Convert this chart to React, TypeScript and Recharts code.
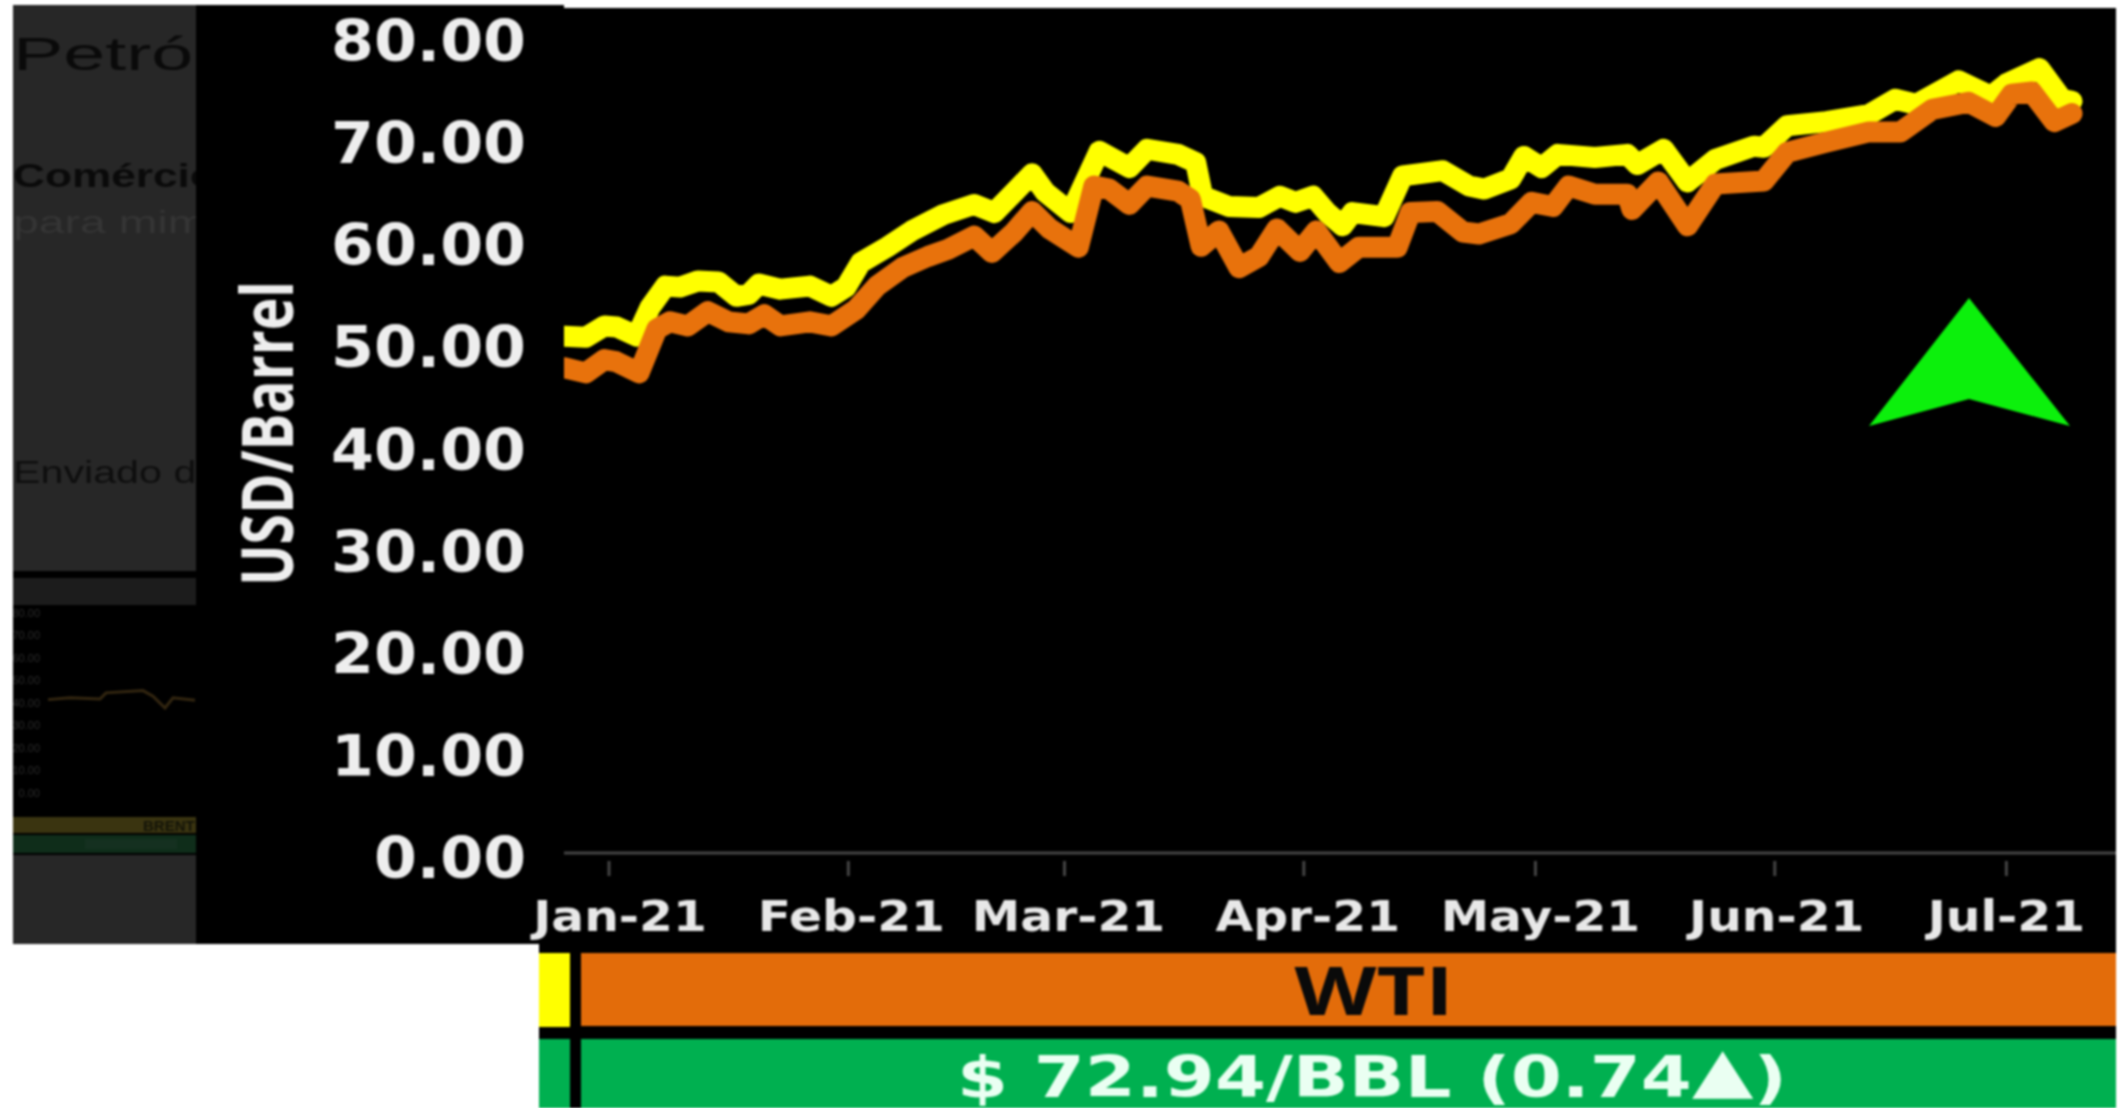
import React from 'react';
import { LineChart, Line, XAxis, YAxis, ReferenceLine } from 'recharts';

// days counted from 1 Jan 2021, prices
const brentDays = [-5.8, -3, -0.6, 1, 3.6, 5.3, 7.3, 9.2, 11.5, 14.2, 16.5, 18.1, 19.4, 22.2, 26, 28.8, 30.7, 32.6, 36, 39.2, 43.3, 47.3, 49.9, 52.5, 54.8, 56.5, 59.8, 63.5, 67.4, 69.7, 73.7, 76, 76.9, 80.3, 84.2, 86.9, 88.9, 91.2, 93, 95, 96.3, 100.4, 102.8, 108, 111.4, 113.4, 116.8, 118.5, 120.8, 122.9, 127.7, 131.9, 133.2, 136.6, 139.7, 143.3, 148.3, 149.6, 152.6, 157.7, 163.2, 166.6, 169.3, 174.8, 179, 181, 185.3, 188.2, 189.5];
const brentPrices = [51.1, 51, 52.1, 52, 51.1, 53.9, 56, 55.9, 56.5, 56.4, 55, 55.2, 56.2, 55.7, 56, 55, 55.9, 58.3, 59.8, 61.4, 63, 64, 63.2, 65.2, 67, 65.2, 63.2, 69.2, 67.6, 69.4, 68.9, 68.1, 64.8, 63.8, 63.7, 64.8, 64.2, 64.8, 63.2, 61.9, 63.2, 62.8, 66.8, 67.3, 65.8, 65.5, 66.5, 68.7, 67.6, 68.9, 68.6, 68.9, 67.9, 69.4, 66.2, 68.4, 69.7, 69.6, 71.7, 72.1, 72.8, 74.3, 73.8, 76.1, 74.6, 75.8, 77.3, 74.3, 74.1];
const wtiDays = [-5.8, -3, -0.6, 0.9, 3.9, 6.2, 7.9, 10.2, 12.8, 15.5, 18.1, 20.1, 22.2, 26, 28.8, 32, 34.7, 38, 41.3, 43.9, 47.3, 49.6, 52.5, 54.8, 57.1, 60.8, 62.8, 64.8, 67.4, 69.7, 73.7, 75.3, 76.7, 79, 81.6, 84.2, 86.5, 89.5, 91.6, 94.6, 97.1, 102.1, 103.8, 107.3, 110.6, 112.7, 116.8, 119.5, 122.3, 124.3, 127.7, 131.9, 132.5, 135.9, 139.7, 143.3, 149.6, 152.6, 157.7, 163.2, 167.3, 171.4, 176.1, 179.6, 181.7, 184.3, 187.2, 189.5];
const wtiPrices = [48, 47.5, 48.8, 48.6, 47.5, 51.8, 52.5, 52.1, 53.5, 52.5, 52.3, 53.2, 52.1, 52.5, 52.1, 53.7, 56, 57.8, 58.9, 59.6, 60.9, 59.3, 61.3, 63.3, 61.6, 59.8, 65.8, 65.5, 64, 65.8, 65.3, 64.5, 59.9, 61.4, 57.8, 58.9, 61.6, 59.4, 61.4, 58.3, 59.8, 59.8, 63.2, 63.3, 61.3, 61.1, 62.1, 64.2, 63.8, 65.8, 65, 65, 63.5, 66.2, 61.9, 66, 66.3, 69.1, 70.1, 71.1, 71.1, 73.3, 74, 72.6, 74.8, 75, 72.1, 72.9];

const monthTicks = [0, 31, 59, 90, 120, 151, 181];
const monthLabels = ['Jan-21', 'Feb-21', 'Mar-21', 'Apr-21', 'May-21', 'Jun-21', 'Jul-21'];
const labelNudge = [11, 3, 4, 4, 5, 2, 0];
const priceTicks = [0, 10, 20, 30, 40, 50, 60, 70, 80];

// the faded copy of the chart behind the dark panel
const miniDays = [0, 22, 52, 58, 95, 105, 117, 125, 147];
const miniPrices = [41.5, 42.3, 41.8, 44.5, 45.5, 43, 37.8, 42.3, 41.2];

const brentData = brentDays.map((day, i) => ({ day, price: brentPrices[i] }));
const wtiData = wtiDays.map((day, i) => ({ day, price: wtiPrices[i] }));
const miniData = miniDays.map((day, i) => ({ day, price: miniPrices[i] }));

const BOLD = '"DejaVu Sans", sans-serif';
const FADED = '"Liberation Sans", sans-serif';

const PriceTick = (props: any) => {
  const { y, payload } = props;
  return (
    <text x={526} y={y + 20} textAnchor="end" fontFamily={BOLD} fontWeight={700} fontSize={57} fill="#eeeeee"
      textLength={payload.value === 0 ? 152 : 195} lengthAdjust="spacingAndGlyphs">
      {payload.value.toFixed(2)}
    </text>
  );
};

const MonthTick = (props: any) => {
  const { x, y, payload, index } = props;
  return (
    <g>
      <line x1={x} x2={x} y1={y - 5} y2={y + 10} stroke="#444444" strokeWidth={3} />
      <text transform={`translate(${x + labelNudge[index]},${y + 65}) scale(1.16,1)`} textAnchor="middle"
        fontFamily={BOLD} fontWeight={700} fontSize={42} fill="#e8e8e8">
        {monthLabels[index]}
      </text>
    </g>
  );
};

const Backdrop = () => (
  <svg width={2126} height={1108} style={{ position: 'absolute', left: 0, top: 0 }}>
    <rect x={0} y={0} width={2126} height={1108} fill="#ffffff" />
    <rect x={13} y={5} width={183} height={939} fill="#272727" />
    <text transform="translate(13,70) scale(1.64,1)" fontFamily={FADED} fontSize={46} fill="#0a0a0a">Petróleo</text>
    <text transform="translate(13,187) scale(1.34,1)" fontFamily={FADED} fontWeight={700} fontSize={33} fill="#0a0a0a">Comércio</text>
    <text transform="translate(13,233) scale(1.45,1)" fontFamily={FADED} fontSize={32} fill="#353535">para mim</text>
    <text transform="translate(13,483) scale(1.33,1)" fontFamily={FADED} fontSize={31} fill="#0e0e0e">Enviado de</text>
    <rect x={13} y={571} width={183} height={7} fill="#000000" />
    <rect x={13} y={578} width={183} height={27} fill="#1c1c1c" />
    <rect x={13} y={605} width={183} height={212} fill="#000000" />
    <rect x={13} y={817} width={183} height={16} fill="#3a3410" />
    <text x={143} y={831} fontFamily={FADED} fontWeight={700} fontSize={15} fill="#141408">BRENT</text>
    <rect x={13} y={833} width={183} height={2} fill="#000000" />
    <rect x={13} y={835} width={183} height={18} fill="#0f2d1a" />
    <rect x={85} y={839} width={92} height={10} fill="#153020" />
    <rect x={13} y={853} width={183} height={2} fill="#000000" />
    <rect x={196} y={5} width={368} height={939} fill="#000000" />
    <rect x={564} y={8} width={1552} height={945} fill="#000000" />
    <rect x={539} y={944} width={1577} height={164} fill="#000000" />
  </svg>
);

const Overlay = () => (
  <svg width={2126} height={1108} style={{ position: 'absolute', left: 0, top: 0 }}>
    <text transform="translate(293,586) rotate(-90)" fontFamily={'"Open Sans", sans-serif'} fontWeight={700} fontSize={72}
      fill="#eeeeee" textLength={305} lengthAdjust="spacingAndGlyphs">USD/Barrel</text>
    <polygon points="1969,298 2070,426 1969,399 1869,426" fill="#0cf00c" />
    <rect x={539} y={953} width={31} height={74} fill="#ffff00" />
    <rect x={581} y={953} width={1535} height={73} fill="#e36c0a" />
    <text x={1374} y={1015} textAnchor="middle" fontFamily={'"Open Sans", sans-serif'} fontWeight={700} fontSize={66}
      fill="#0a0a0a" textLength={159} lengthAdjust="spacingAndGlyphs">WTI</text>
    <rect x={539} y={1039} width={31} height={69} fill="#00b050" />
    <rect x={581} y={1039} width={1535} height={69} fill="#00b050" />
    <text x={1372} y={1097} textAnchor="middle" fontFamily={BOLD} fontWeight={700} fontSize={57}
      fill="#eafff2" textLength={830} lengthAdjust="spacingAndGlyphs">
      $ 72.94/BBL (0.74<tspan fontSize={62} dy={-6}>▲</tspan><tspan dy={6}>)</tspan>
    </text>
  </svg>
);

export default function App() {
  return (
    <div style={{ position: 'absolute', left: 0, top: 0, width: 2126, height: 1108, overflow: 'hidden', filter: 'blur(1px)' }}>
      <Backdrop />
      <div style={{ position: 'absolute', left: 13, top: 605 }}>
        <LineChart width={183} height={200} margin={{ top: 8, right: 0, bottom: 12, left: 0 }}>
          <XAxis type="number" dataKey="day" domain={[0, 148]} hide />
          <YAxis type="number" domain={[0, 80]} ticks={priceTicks} width={35} axisLine={false} tickLine={false} interval={0}
            tick={{ fontSize: 11, fill: '#2b2b2b', fontFamily: FADED }} tickFormatter={(v: number) => v.toFixed(2)} />
          <Line data={miniData} dataKey="price" type="linear" stroke="#332610" strokeWidth={3} dot={false} isAnimationActive={false} />
        </LineChart>
      </div>
      <div style={{ position: 'absolute', left: 0, top: 0 }}>
        <LineChart width={2126} height={1108} margin={{ top: 41, right: 10, bottom: 0, left: 0 }}>
          <XAxis type="number" dataKey="day" domain={[-5.83, 195.2]} ticks={monthTicks} axisLine={false} tickLine={false}
            tick={<MonthTick />} height={250} interval={0} allowDataOverflow />
          <YAxis type="number" domain={[0, 80]} ticks={priceTicks} axisLine={false} tickLine={false}
            tick={<PriceTick />} width={564} interval={0} />
          <ReferenceLine y={0.5} stroke="#444444" strokeWidth={3} />
          <Line data={brentData} dataKey="price" name="Brent" type="linear" stroke="#ffff00" strokeWidth={21}
            dot={false} strokeLinejoin="round" strokeLinecap="round" isAnimationActive={false} />
          <Line data={wtiData} dataKey="price" name="WTI" type="linear" stroke="#e8720c" strokeWidth={21}
            dot={false} strokeLinejoin="round" strokeLinecap="round" isAnimationActive={false} />
        </LineChart>
      </div>
      <Overlay />
    </div>
  );
}
